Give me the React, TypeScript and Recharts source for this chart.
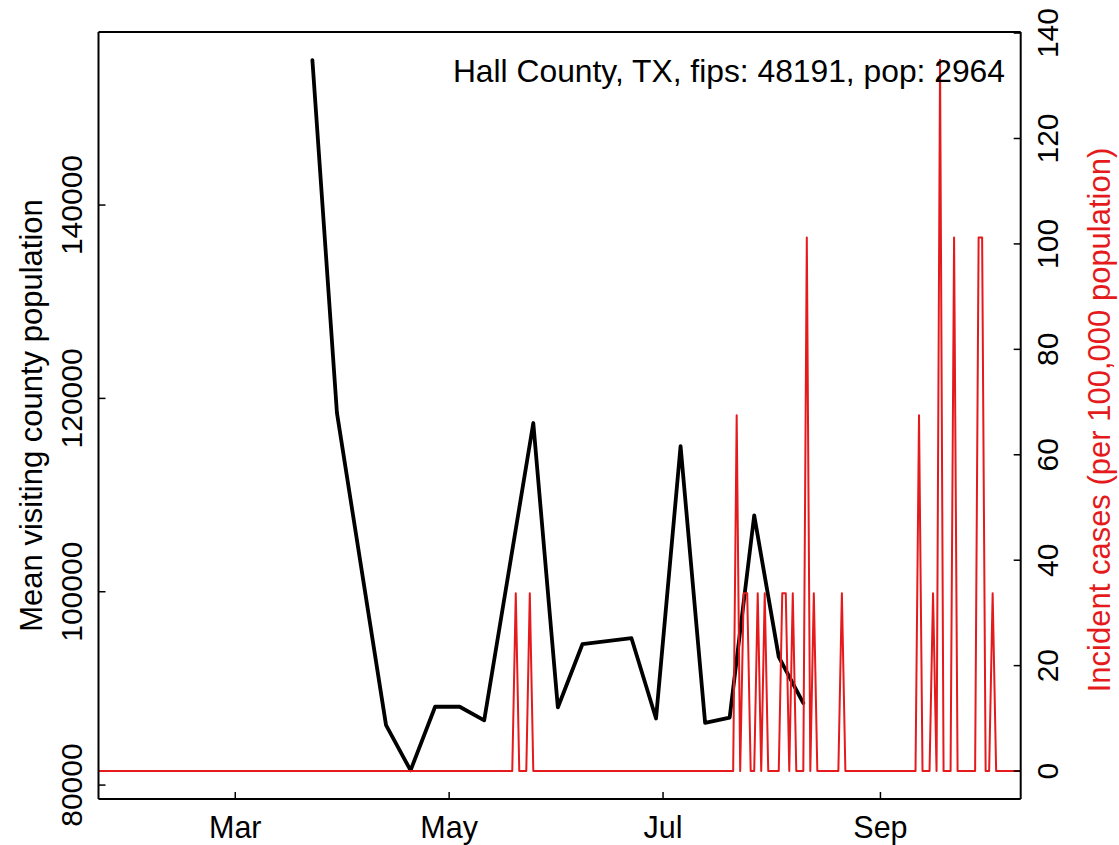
import React from 'react';
import { LineChart, Line, XAxis, YAxis, ReferenceLine } from 'recharts';

const FONT = '"Liberation Sans", Arial, Helvetica, sans-serif';
const RED = '#E41A1C';

// x = day of year 2020 (Jan 1 = 0)
const visitDays = [82, 89, 103, 110, 117, 124, 131, 145, 152, 159, 173, 180, 187, 194, 201, 208, 215, 222];
const visitMeans = [155000, 118500, 86200, 81520, 88100, 88100, 86700, 117450, 88030, 94570, 95190, 86890, 115070, 86440, 86980, 107900, 93260, 88480];

const caseDays = [21, 139, 140, 141, 143, 144, 145, 202, 203, 204, 205, 206, 207, 208, 209, 210, 211, 212, 215, 216, 217, 218, 219, 220, 222, 223, 224, 225, 226, 232, 233, 234, 254, 255, 256, 258, 259, 260, 261, 262, 264, 265, 266, 271, 272, 273, 274, 275, 276, 277, 284];
const caseRates = [0, 0, 33.74, 0, 0, 33.74, 0, 0, 67.48, 0, 33.74, 33.74, 0, 0, 33.74, 0, 33.74, 0, 0, 33.74, 33.74, 0, 33.74, 0, 0, 101.21, 0, 33.74, 0, 0, 33.74, 0, 0, 67.48, 0, 0, 33.74, 0, 134.95, 0, 0, 101.21, 0, 0, 101.21, 101.21, 0, 0, 33.74, 0, 0];

const monthTicks = [60, 121, 182, 244];
const monthLabels = ['Mar', 'May', 'Jul', 'Sep'];
const leftTicks = [80000, 100000, 120000, 140000];
const rightTicks = [0, 20, 40, 60, 80, 100, 120, 140];

const X_DOMAIN = [21, 284];
const LEFT_DOMAIN = [78560, 157900];
const RIGHT_DOMAIN = [-5.3, 140.2];

const visitData = visitDays.map((d, i) => ({ day: d, mean: visitMeans[i] }));
const caseData = caseDays.map((d, i) => ({ day: d, rate: caseRates[i] }));

const BottomTick = (props: any) => {
  const { x, y, payload } = props;
  const idx = monthTicks.indexOf(payload.value);
  return (
    <g>
      <line x1={x} x2={x} y1={y} y2={y - 7} stroke="#000" strokeWidth={1.5} />
      <text x={x} y={y + 39} textAnchor="middle" fontSize={30.5} fontFamily={FONT} fill="#000">
        {idx >= 0 ? monthLabels[idx] : ''}
      </text>
    </g>
  );
};

const LeftTick = (props: any) => {
  const { x, y, payload } = props;
  const bx = x - 16;
  return (
    <g>
      <line x1={x} x2={x + 7} y1={y} y2={y} stroke="#000" strokeWidth={1.5} />
      <text x={bx} y={y} transform={`rotate(-90, ${bx}, ${y})`} textAnchor="middle" fontSize={30} fontFamily={FONT} fill="#000">
        {payload.value}
      </text>
    </g>
  );
};

const RightTick = (props: any) => {
  const { x, y, payload } = props;
  const bx = x + 37;
  return (
    <g>
      <line x1={x} x2={x - 7} y1={y} y2={y} stroke="#000" strokeWidth={1.5} />
      <text x={bx} y={y} transform={`rotate(-90, ${bx}, ${y})`} textAnchor="middle" fontSize={30} fontFamily={FONT} fill="#000">
        {payload.value}
      </text>
    </g>
  );
};

export default function App() {
  return (
    <div style={{ position: 'absolute', left: 0, top: 0, width: 1119, height: 845, background: '#fff' }}>
      <LineChart width={1119} height={845} margin={{ top: 32, right: 0, bottom: 0, left: 0 }}>
        <XAxis
          dataKey="day"
          type="number"
          domain={X_DOMAIN}
          ticks={monthTicks}
          allowDataOverflow
          height={46}
          tickSize={0}
          tickMargin={0}
          tickLine={false}
          tick={<BottomTick />}
          axisLine={{ stroke: '#000', strokeWidth: 2 }}
          interval={0}
        />
        <YAxis
          yAxisId="left"
          orientation="left"
          type="number"
          domain={LEFT_DOMAIN}
          ticks={leftTicks}
          allowDataOverflow
          width={98.5}
          tickSize={0}
          tickMargin={0}
          tickLine={false}
          tick={<LeftTick />}
          axisLine={{ stroke: '#000', strokeWidth: 2 }}
          interval={0}
        />
        <YAxis
          yAxisId="right"
          orientation="right"
          type="number"
          domain={RIGHT_DOMAIN}
          ticks={rightTicks}
          allowDataOverflow
          width={98.3}
          tickSize={0}
          tickMargin={0}
          tickLine={false}
          tick={<RightTick />}
          axisLine={{ stroke: '#000', strokeWidth: 2 }}
          interval={0}
        />
        <ReferenceLine yAxisId="left" y={LEFT_DOMAIN[1]} stroke="#000" strokeWidth={2} />
        <Line
          yAxisId="left"
          data={visitData}
          dataKey="mean"
          stroke="#000"
          strokeWidth={3.8}
          dot={false}
          activeDot={false}
          strokeLinejoin="round"
          strokeLinecap="round"
          isAnimationActive={false}
        />
        <Line
          yAxisId="right"
          data={caseData}
          dataKey="rate"
          stroke={RED}
          strokeWidth={2}
          dot={false}
          activeDot={false}
          strokeLinejoin="round"
          isAnimationActive={false}
        />
      </LineChart>
      <svg width={1119} height={845} style={{ position: 'absolute', left: 0, top: 0, pointerEvents: 'none' }}>
        <text x={1005} y={82} textAnchor="end" fontSize={31.8} fontFamily={FONT} fill="#000">
          Hall County, TX, fips: 48191, pop: 2964
        </text>
        <text x={42} y={415.5} transform="rotate(-90, 42, 415.5)" textAnchor="middle" fontSize={31} fontFamily={FONT} fill="#000">
          Mean visiting county population
        </text>
        <text x={1110} y={420} transform="rotate(-90, 1110, 420)" textAnchor="middle" fontSize={31} fontFamily={FONT} fill={RED}>
          Incident cases (per 100,000 population)
        </text>
      </svg>
    </div>
  );
}
